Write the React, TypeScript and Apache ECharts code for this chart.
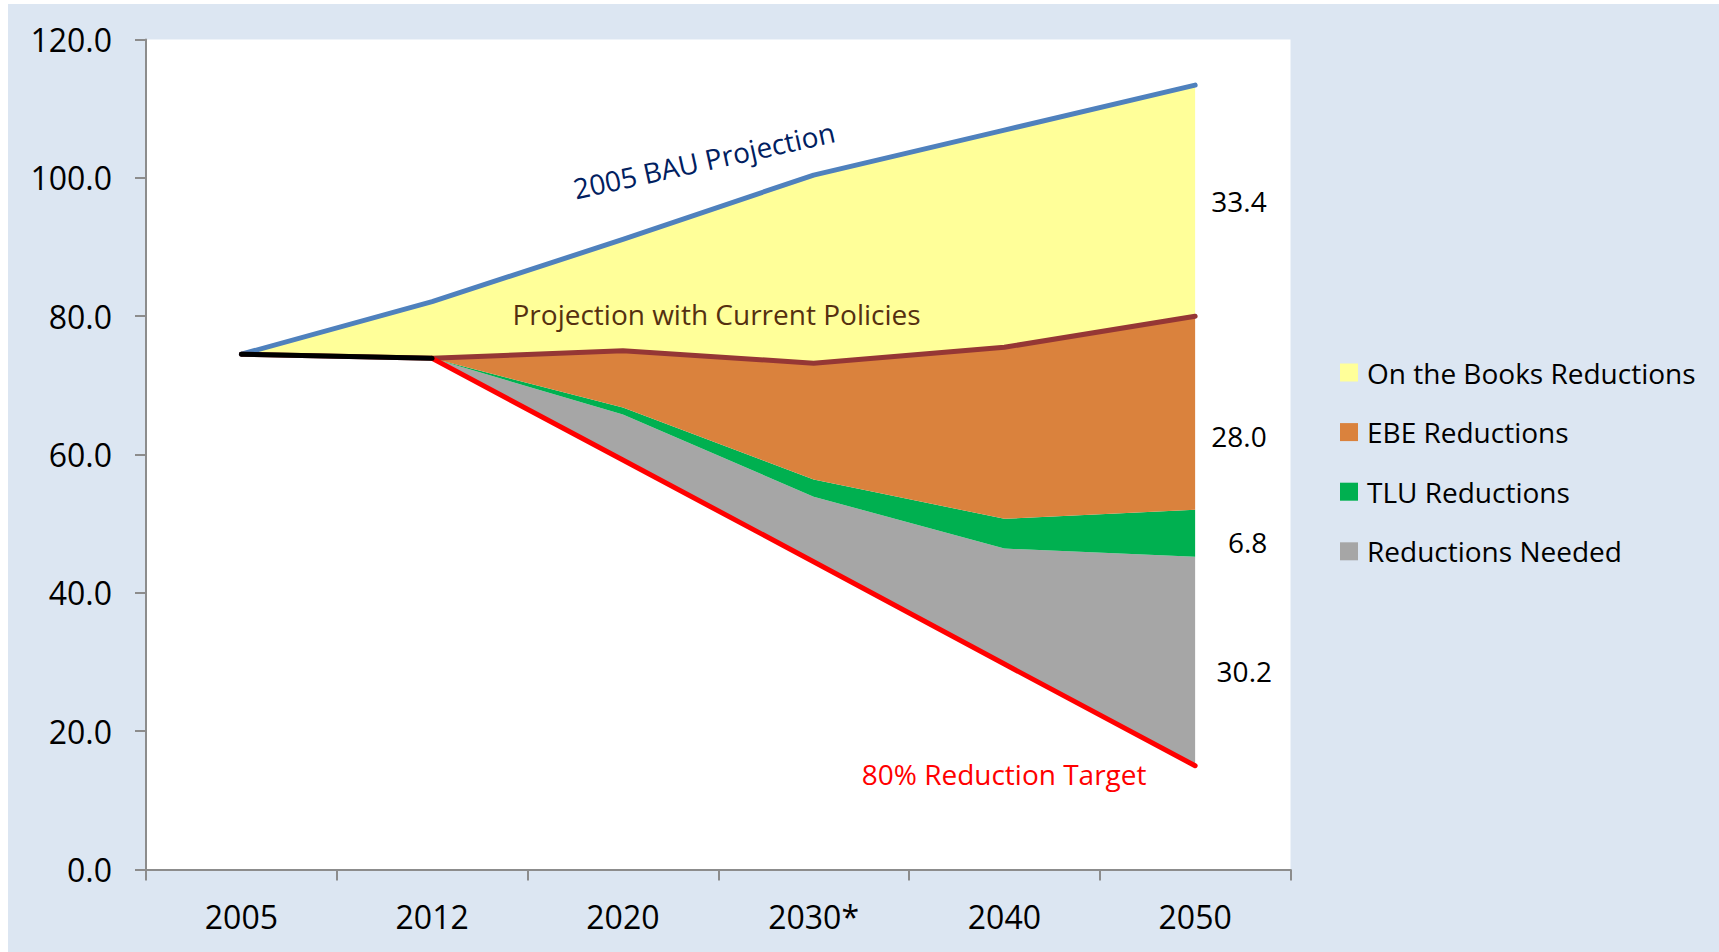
import React, { useEffect, useRef } from "react";
import * as echarts from "echarts";

const years = ["2005", "2012", "2020", "2030*", "2040", "2050"];
const bauProjection = [74.5, 82.1, 91.1, 100.4, 106.9, 113.4];
const currentPolicies = [74.5, 73.9, 75.0, 73.2, 75.5, 80.0];
const afterEbe = [74.5, 73.9, 66.8, 56.4, 50.7, 52.0];
const afterTlu = [74.5, 73.9, 65.8, 53.9, 46.4, 45.2];
const reductionTarget: (number | null)[] = [null, 73.9, 59.2, 44.5, 29.7, 15.0];
const historical: (number | null)[] = [74.5, 73.9, null, null, null, null];
const legendNames = [
  "On the Books Reductions",
  "EBE Reductions",
  "TLU Reductions",
  "Reductions Needed",
];

const FONT = '"Open Sans", "Noto Sans", sans-serif';
const C_YELLOW = "#FFFF99";
const C_ORANGE = "#DA823D";
const C_GREEN = "#00B050";
const C_GRAY = "#A6A6A6";
const AXIS = "#8C8C8C";

export default function App() {
  const ref = useRef<HTMLDivElement>(null);
  useEffect(() => {
    if (!ref.current) return;
    const chart = echarts.init(ref.current, null, { renderer: "svg" });
    const base = years.map((_, i) => (reductionTarget[i] ?? afterTlu[i]) as number);
    const r1 = (v: number) => Math.round(v * 10) / 10;
    const grayBand = years.map((_, i) => r1(afterTlu[i] - base[i]));
    const greenBand = years.map((_, i) => r1(afterEbe[i] - afterTlu[i]));
    const orangeBand = years.map((_, i) => r1(currentPolicies[i] - afterEbe[i]));
    const yellowBand = years.map((_, i) => r1(bauProjection[i] - currentPolicies[i]));
    const last = years.length - 1;

    const area = (name: string, data: number[], color: string) => ({
      name,
      type: "line",
      stack: "total",
      data,
      symbol: "none",
      lineStyle: { width: 0, opacity: 0 },
      itemStyle: { color },
      areaStyle: { color, opacity: 1 },
      z: 2,
    });
    const line = (name: string, data: (number | null)[], color: string, z: number) => ({
      name,
      type: "line",
      data,
      symbol: "none",
      connectNulls: false,
      lineStyle: { width: 5, color, cap: "round", join: "round" },
      itemStyle: { color },
      z,
    });

    const txt = (
      text: string,
      x: number,
      y: number,
      fill: string,
      align = "center",
      rotation = 0
    ) => ({
      type: "text",
      x,
      y,
      rotation,
      z: 100,
      style: {
        text,
        fill,
        fontSize: 28,
        fontFamily: FONT,
        align,
        verticalAlign: "middle",
      },
    });

    chart.setOption({
      animation: false,
      backgroundColor: "#DCE6F2",
      grid: {
        left: 138,
        top: 35.5,
        width: 1144.5,
        height: 830,
        show: true,
        backgroundColor: "#FFFFFF",
        borderWidth: 0,
      },
      legend: {
        orient: "vertical",
        left: 1332,
        top: 354.5,
        padding: 0,
        icon: "rect",
        itemWidth: 18,
        itemHeight: 18,
        itemGap: 31.6,
        textStyle: {
          fontSize: 28,
          fontFamily: FONT,
          color: "#000",
          padding: [0, 0, 0, 4],
        },
        data: [
          { name: legendNames[0], itemStyle: { color: C_YELLOW } },
          { name: legendNames[1], itemStyle: { color: C_ORANGE } },
          { name: legendNames[2], itemStyle: { color: C_GREEN } },
          { name: legendNames[3], itemStyle: { color: C_GRAY } },
        ],
        selectedMode: false,
      },
      xAxis: {
        type: "category",
        data: years,
        boundaryGap: true,
        axisLine: { show: true, lineStyle: { color: AXIS, width: 2 } },
        axisTick: { show: true, length: 11, lineStyle: { color: AXIS, width: 2 } },
        axisLabel: { fontSize: 32, fontFamily: FONT, color: "#000", margin: 31 },
        splitLine: { show: false },
      },
      yAxis: {
        type: "value",
        min: 0,
        max: 120,
        interval: 20,
        axisLine: { show: true, lineStyle: { color: AXIS, width: 2 } },
        axisTick: { show: true, length: 11, lineStyle: { color: AXIS, width: 2 } },
        axisLabel: {
          fontSize: 32,
          fontFamily: FONT,
          color: "#000",
          margin: 34,
          formatter: (v: number) => v.toFixed(1),
        },
        splitLine: { show: false },
      },
      series: [
        {
          name: "base",
          type: "line",
          stack: "total",
          data: base,
          symbol: "none",
          lineStyle: { width: 0, opacity: 0 },
          z: 1,
        },
        area(legendNames[3], grayBand, C_GRAY),
        area(legendNames[2], greenBand, C_GREEN),
        area(legendNames[1], orangeBand, C_ORANGE),
        area(legendNames[0], yellowBand, C_YELLOW),
        line("2005 BAU Projection", bauProjection, "#4F81BD", 5),
        line("Projection with Current Policies", currentPolicies, "#953735", 5),
        line("80% Reduction Target", reductionTarget, "#FF0000", 6),
        line("Historical", historical, "#000000", 7),
      ],
      graphic: [
        txt("2005 BAU Projection", 696, 156, "#002060", "center", (12.5 * Math.PI) / 180),
        txt("Projection with Current Policies", 504.5, 310, "#553010", "left"),
        txt("80% Reduction Target", 853.7, 770, "#FF0000", "left"),
        txt((bauProjection[last] - currentPolicies[last]).toFixed(1), 1231, 196.6, "#000"),
        txt((currentPolicies[last] - afterEbe[last]).toFixed(1), 1231, 432.3, "#000"),
        txt((afterEbe[last] - afterTlu[last]).toFixed(1), 1239.6, 537.6, "#000"),
        txt((afterTlu[last] - (reductionTarget[last] as number)).toFixed(1), 1236.3, 667, "#000"),
      ],
    });
    return () => chart.dispose();
  }, []);
  return (
    <div
      ref={ref}
      style={{ position: "absolute", left: 8, top: 4, width: 1711, height: 948 }}
    />
  );
}
